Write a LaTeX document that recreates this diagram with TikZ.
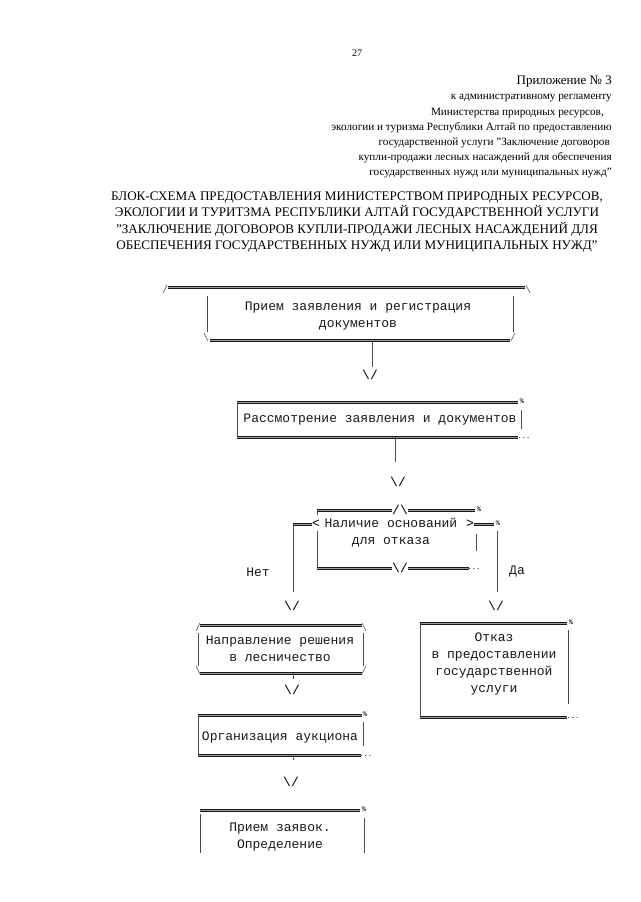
\documentclass[tikz,border=0pt]{standalone}
\usepackage{fontspec}
\setmainfont{Liberation Serif}
\setmonofont{Liberation Mono}
\begin{document}
\begin{tikzpicture}[x=1pt,y=-1pt,
  dbl/.style={draw=black!90, line width=3pt, postaction={draw=black!40, line width=0.8pt}},
  bar/.style={draw=black!70, line width=0.6pt},
  mono/.style={font=\ttfamily\fontsize{13}{17}\selectfont, text=black!90, inner sep=0pt, align=center},
  tiny/.style={font=\ttfamily\fontsize{7}{7}\selectfont, inner sep=0pt},
  vee/.style={font=\ttfamily\fontsize{13}{13}\selectfont, inner sep=0pt},
  hdr/.style={font=\fontsize{11.2}{15}\selectfont, inner sep=0pt, anchor=east},
  ttl/.style={font=\fontsize{13.1}{16.2}\selectfont, inner sep=0pt, align=center}]
\useasboundingbox[fill=white] (0,0) rectangle (640,902);

% header
\node[font=\fontsize{10}{12}\selectfont, inner sep=0pt] (pg) at (357,53) {27};
\node[hdr, font=\fontsize{13}{15}\selectfont] (h0) at (612,82) {Приложение № 3};
\node[hdr] (h1) at (612,98) {к административному регламенту};
\node[hdr] (h2) at (604,113) {Министерства природных ресурсов,};
\node[hdr] (h3) at (612,128) {экологии и туризма Республики Алтай по предоставлению};
\node[hdr] (h4) at (610,143) {государственной услуги "Заключение договоров};
\node[hdr] (h5) at (612,158) {купли-продажи лесных насаждений для обеспечения};
\node[hdr] (h6) at (612,173) {государственных нужд или муниципальных нужд"};

% title
\node[ttl] (title) at (357,222) {БЛОК-СХЕМА ПРЕДОСТАВЛЕНИЯ МИНИСТЕРСТВОМ ПРИРОДНЫХ РЕСУРСОВ,\\
ЭКОЛОГИИ И ТУРИТЗМА РЕСПУБЛИКИ АЛТАЙ ГОСУДАРСТВЕННОЙ УСЛУГИ\\
"ЗАКЛЮЧЕНИЕ ДОГОВОРОВ КУПЛИ-ПРОДАЖИ ЛЕСНЫХ НАСАЖДЕНИЙ ДЛЯ\\
ОБЕСПЕЧЕНИЯ ГОСУДАРСТВЕННЫХ НУЖД ИЛИ МУНИЦИПАЛЬНЫХ НУЖД"};

% ---------- box 1
\draw[dbl] (168,287) -- (525,287);
\draw[bar] (163,293) -- (167,285);
\draw[bar] (526,285) -- (530,293);
\draw[bar] (207,296) -- (207,332);
\draw[bar] (513,296) -- (513,332);
\node[mono] (b1) at (358,316) {Прием заявления и регистрация\\документов};
\draw[dbl] (210,340) -- (510,340);
\draw[bar] (204,333) -- (208,341);
\draw[bar] (511,341) -- (515,333);
\coordinate (b1s) at (372,341);
\node[vee] (v1) at (370,375) {\textbackslash/};
\draw[bar] (b1s) -- (372,367);

% ---------- box 2
\draw[dbl] (237,402) -- (518,402);
\node[tiny] (p2) at (522,401) {\%};
\draw[bar] (237,402) -- (237,437);
\draw[bar] (521,410) -- (521,429);
\node[mono] (b2) at (380,420) {Рассмотрение заявления и документов};
\draw[dbl] (237,437) -- (518,437);
\node[tiny] (d2) at (524,438) {...};
\coordinate (b2s) at (395,437);
\node[vee] (v2) at (398,482) {\textbackslash/};
\draw[bar] (b2s) -- (395,462);

% ---------- decision
\node[vee] (dtop) at (400,510) {/\textbackslash};
\draw[dbl] (317,510) -- (dtop.west);
\draw[dbl] (dtop.east) -- (475,510);
\node[tiny] (p3) at (479,509) {\%};
\draw[bar] (317,510) -- (317,515);
\node[vee] (lt) at (316,524) {<};
\node[vee] (gt) at (470,524) {>};
\node[mono] (dec) at (391,533) {Наличие оснований\\для отказа};
\coordinate (dl0) at (293,524);
\coordinate (dr0) at (497,524);
\draw[dbl] (dl0) -- (lt.west);
\draw[dbl] (gt.east) -- (494,524);
\node[tiny] (p4) at (498,523) {\%};
\draw[bar] (317,531) -- (317,568);
\draw[bar] (476,534) -- (476,551);
\node[vee] (dbot) at (400,568) {\textbackslash/};
\draw[dbl] (317,568) -- (dbot.west);
\draw[dbl] (dbot.east) -- (469,568);
\node[tiny] (d3) at (474,569) {...};
\node[vee] (vl) at (292,606) {\textbackslash/};
\node[vee] (vr) at (496,606) {\textbackslash/};
\draw[bar] (dl0) -- (293,592);
\draw[bar] (497,531) -- (497,592);
\node[mono] (net) at (258,572) {Нет};
\node[mono] (da) at (517,572) {Да};

% ---------- box 3
\draw[dbl] (200,625) -- (362,625);
\draw[bar] (196,631) -- (200,623);
\draw[bar] (362,623) -- (366,631);
\draw[bar] (198,633) -- (198,666);
\draw[bar] (363,633) -- (363,666);
\node[mono] (b3) at (280,649) {Направление решения\\в лесничество};
\draw[dbl] (200,673) -- (362,673);
\draw[bar] (196,666) -- (200,674);
\draw[bar] (362,674) -- (366,666);
\coordinate (b3s) at (293,673);
\node[vee] (v3) at (292,690) {\textbackslash/};
\draw[bar] (b3s) -- (293,679);

% ---------- box 4
\draw[dbl] (420,623) -- (567,623);
\node[tiny] (p5) at (571,622) {\%};
\draw[bar] (420,623) -- (420,717);
\draw[bar] (568,630) -- (568,704);
\node[mono] (b4) at (494,664) {Отказ\\в предоставлении\\государственной\\услуги};
\draw[dbl] (420,717) -- (567,717);
\node[tiny] (d4) at (573,718) {...};

% ---------- box 5
\draw[dbl] (198,715) -- (362,715);
\node[tiny] (p6) at (365,714) {\%};
\draw[bar] (198,715) -- (198,755);
\draw[bar] (363,722) -- (363,746);
\node[mono] (b5) at (280,737) {Организация аукциона};
\draw[dbl] (198,755) -- (361,755);
\node[tiny] (d5) at (366,756) {...};
\coordinate (b5s) at (293,755);
\node[vee] (v5) at (291,782) {\textbackslash/};
\draw[bar] (b5s) -- (293,760);

% ---------- box 6
\draw[dbl] (200,810) -- (360,810);
\node[tiny] (p7) at (364,809) {\%};
\draw[bar] (200,814) -- (200,853);
\draw[bar] (364,818) -- (364,853);
\node[mono] (b6) at (280,837) {Прием заявок.\\Определение};
\end{tikzpicture}
\end{document}
